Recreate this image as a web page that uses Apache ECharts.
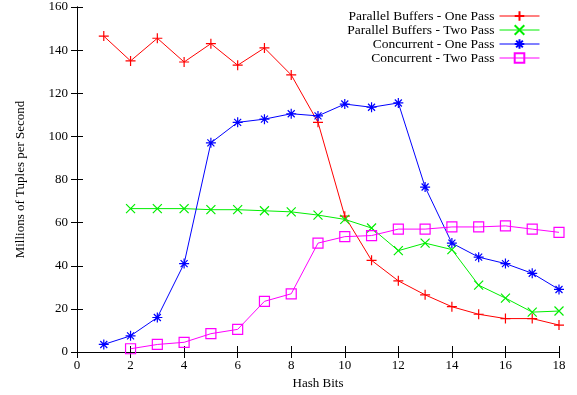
<!DOCTYPE html>
<html><head><meta charset="utf-8">
<script src="https://cdn.jsdelivr.net/npm/echarts@6/dist/echarts.min.js"></script>
<style>html,body{margin:0;padding:0;background:#fff}#c{width:577px;height:395px}</style>
</head><body><div id="c"></div>
<script>
const xValues = [1,2,3,4,5,6,7,8,9,10,11,12,13,14,15,16,17,18];
const seriesNames = ['Parallel Buffers - One Pass','Parallel Buffers - Two Pass','Concurrent - One Pass','Concurrent - Two Pass'];
const pbOnePass = [146.5,135,145.5,134.5,143,133,141,128.5,106.5,63,42.5,33,26.5,21,17.5,15.5,15.5,12.5];
const pbTwoPass = [null,66.5,66.5,66.5,66,66,65.5,65,63.5,61.5,57.5,47,50.5,47.5,31,25,18.5,19];
const ccOnePass = [3.5,7.5,16,41,97,106.5,108,110.5,109.5,115,113.5,115.5,76.5,50.5,44,41,36.5,29];
const ccTwoPass = [null,1.5,3.5,4.5,8.5,10.5,23.5,27,50.5,53.5,54,57,57,58,58,58.5,57,55.5];
const xTicks = {min:0,max:18,interval:2};
const yTicks = {min:0,max:160,interval:20};

const font = 'Liberation Serif';
const plus = 'path://M0,5L10,5M5,0L5,10';
const cross = 'path://M0,0L10,10M0,10L10,0';
const star = 'path://M0,5L10,5M5,0L5,10M1.5,1.5L8.5,8.5M1.5,8.5L8.5,1.5';
function pairs(arr){return xValues.map((x,i)=>arr[i]==null?null:[x,arr[i]]).filter(p=>p);}
function mk(name,data,color,symbol,size,extra){
  return Object.assign({name,type:'line',data:pairs(data),symbol,symbolSize:size,
    lineStyle:{color,width:1},itemStyle:{color,borderColor:color,borderWidth:1.2},
    emphasis:{disabled:true},animation:false,clip:false},extra||{});
}
const chart = echarts.init(document.getElementById('c'),null,{renderer:'canvas'});
const axisLine={show:true,lineStyle:{color:'#000',width:1}};
chart.setOption({
  animation:false,
  grid:{left:77,right:18,top:7,bottom:43,outerBoundsMode:'none',containLabel:false},
  textStyle:{fontFamily:font},
  legend:{show:true,orient:'vertical',right:32,top:4,align:'right',itemWidth:40,itemHeight:12,itemGap:0,
    lineStyle:{width:1},
    textStyle:{fontFamily:font,fontSize:13.5,lineHeight:13.5,color:'#000',padding:[0,0,0,0]},
    data:seriesNames},
  xAxis:[
    {type:'value',min:xTicks.min,max:xTicks.max,interval:xTicks.interval,position:'bottom',
     name:'Hash Bits',nameLocation:'middle',nameGap:24,nameTextStyle:{fontFamily:font,fontSize:13,color:'#000'},
     axisLine,axisTick:{inside:true,length:6,lineStyle:{color:'#000'}},
     axisLabel:{fontFamily:font,fontSize:13,color:'#000',margin:7},splitLine:{show:false}},
    {type:'value',min:xTicks.min,max:xTicks.max,interval:xTicks.interval,position:'top',
     axisLine,axisTick:{inside:true,length:6,lineStyle:{color:'#000'}},axisLabel:{show:false},splitLine:{show:false}}
  ],
  yAxis:[
    {type:'value',min:yTicks.min,max:yTicks.max,interval:yTicks.interval,position:'left',
     name:'Millions of Tuples per Second',nameLocation:'middle',nameGap:50,nameRotate:90,
     nameTextStyle:{fontFamily:font,fontSize:13,color:'#000'},
     axisLine,axisTick:{inside:true,length:6,lineStyle:{color:'#000'}},
     axisLabel:{fontFamily:font,fontSize:13,color:'#000',margin:9},splitLine:{show:false}},
    {type:'value',min:yTicks.min,max:yTicks.max,interval:yTicks.interval,position:'right',
     axisLine,axisTick:{inside:true,length:6,lineStyle:{color:'#000'}},axisLabel:{show:false},splitLine:{show:false}}
  ],
  series:[
    mk(seriesNames[0],pbOnePass,'#ff0000',plus,10),
    mk(seriesNames[1],pbTwoPass,'#00ee00',cross,9),
    mk(seriesNames[2],ccOnePass,'#0000ff',star,10),
    mk(seriesNames[3],ccTwoPass,'#ff00ff','rect',10,{itemStyle:{color:'rgba(255,255,255,0)',borderColor:'#ff00ff',borderWidth:1.2}})
  ]
});
</script></body></html>
